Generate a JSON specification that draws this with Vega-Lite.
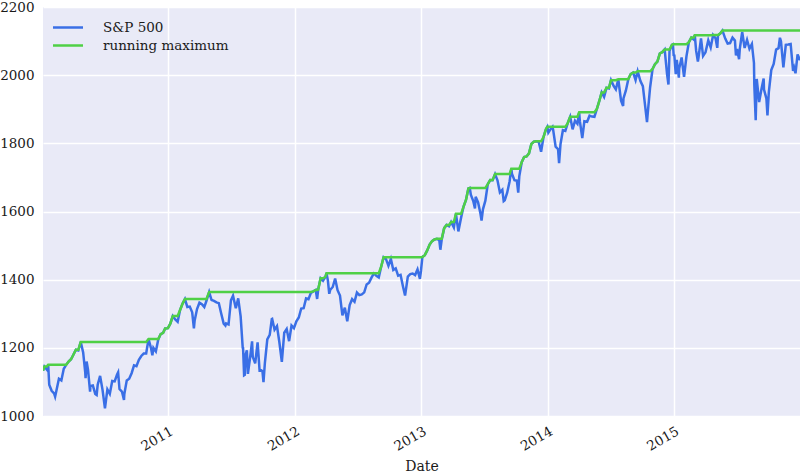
{
"$schema": "https://vega.github.io/schema/vega-lite/v6.json",
"width": 757, "height": 409,
"autosize": {"type": "none"},
"padding": {"left": 43, "top": 7, "right": 0, "bottom": 58},
"background": "white",
"config": {
 "view": {"fill": "#E9EAF7", "stroke": null},
 "font": "DejaVu Serif",
 "axis": {"domain": false, "ticks": false, "gridColor": "white", "gridWidth": 1.5, "labelFont": "DejaVu Serif", "labelFontSize": 13.5, "labelColor": "#1a1a1a", "titleFont": "DejaVu Serif", "titleFontSize": 14, "titleFontWeight": "normal", "titleColor": "#1a1a1a"}
},
"data": {"values": [
{"d":"2010-01-04","v":1132.99},{"d":"2010-01-08","v":1144.98},{"d":"2010-01-15","v":1136.03},{"d":"2010-01-19","v":1150.23},{"d":"2010-01-22","v":1091.76},{"d":"2010-01-29","v":1073.87},{"d":"2010-02-05","v":1066.19},{"d":"2010-02-08","v":1056.74},{"d":"2010-02-12","v":1075.51},{"d":"2010-02-19","v":1109.17},{"d":"2010-02-26","v":1104.49},{"d":"2010-03-05","v":1138.70},{"d":"2010-03-12","v":1149.99},{"d":"2010-03-19","v":1159.90},{"d":"2010-03-26","v":1166.59},{"d":"2010-04-01","v":1178.10},{"d":"2010-04-09","v":1194.37},{"d":"2010-04-16","v":1192.13},{"d":"2010-04-23","v":1217.28},{"d":"2010-04-30","v":1186.69},{"d":"2010-05-06","v":1128.15},{"d":"2010-05-07","v":1110.88},{"d":"2010-05-10","v":1159.73},{"d":"2010-05-14","v":1135.68},{"d":"2010-05-20","v":1071.59},{"d":"2010-05-21","v":1087.69},{"d":"2010-05-28","v":1089.41},{"d":"2010-06-04","v":1064.88},{"d":"2010-06-08","v":1062.00},{"d":"2010-06-11","v":1091.60},{"d":"2010-06-18","v":1117.51},{"d":"2010-06-25","v":1076.76},{"d":"2010-07-02","v":1022.58},{"d":"2010-07-09","v":1077.96},{"d":"2010-07-16","v":1064.88},{"d":"2010-07-23","v":1102.66},{"d":"2010-07-30","v":1101.60},{"d":"2010-08-06","v":1121.64},{"d":"2010-08-09","v":1127.79},{"d":"2010-08-13","v":1079.25},{"d":"2010-08-20","v":1071.69},{"d":"2010-08-26","v":1047.22},{"d":"2010-08-27","v":1064.59},{"d":"2010-09-03","v":1104.51},{"d":"2010-09-10","v":1109.55},{"d":"2010-09-17","v":1125.59},{"d":"2010-09-24","v":1148.67},{"d":"2010-10-01","v":1146.24},{"d":"2010-10-08","v":1165.15},{"d":"2010-10-15","v":1176.19},{"d":"2010-10-22","v":1183.08},{"d":"2010-10-29","v":1183.26},{"d":"2010-11-05","v":1225.85},{"d":"2010-11-12","v":1199.21},{"d":"2010-11-16","v":1178.34},{"d":"2010-11-19","v":1199.73},{"d":"2010-11-26","v":1189.40},{"d":"2010-12-03","v":1224.71},{"d":"2010-12-10","v":1240.40},{"d":"2010-12-17","v":1243.91},{"d":"2010-12-23","v":1256.77},{"d":"2010-12-31","v":1257.64},
{"d":"2011-01-07","v":1271.50},{"d":"2011-01-14","v":1293.24},{"d":"2011-01-21","v":1283.35},{"d":"2011-01-28","v":1276.34},{"d":"2011-02-04","v":1310.87},{"d":"2011-02-11","v":1329.15},{"d":"2011-02-18","v":1343.01},{"d":"2011-02-25","v":1319.88},{"d":"2011-03-04","v":1321.15},{"d":"2011-03-11","v":1304.28},{"d":"2011-03-16","v":1256.88},{"d":"2011-03-18","v":1279.21},{"d":"2011-03-25","v":1313.80},{"d":"2011-04-01","v":1332.41},{"d":"2011-04-08","v":1328.17},{"d":"2011-04-15","v":1319.68},{"d":"2011-04-21","v":1337.38},{"d":"2011-04-29","v":1363.61},{"d":"2011-05-06","v":1340.20},{"d":"2011-05-13","v":1337.77},{"d":"2011-05-20","v":1333.27},{"d":"2011-05-27","v":1331.10},{"d":"2011-06-03","v":1300.16},{"d":"2011-06-10","v":1270.98},{"d":"2011-06-15","v":1265.42},{"d":"2011-06-17","v":1271.50},{"d":"2011-06-24","v":1268.45},{"d":"2011-07-01","v":1339.67},{"d":"2011-07-07","v":1353.22},{"d":"2011-07-15","v":1316.14},{"d":"2011-07-22","v":1345.02},{"d":"2011-07-29","v":1292.28},{"d":"2011-08-04","v":1200.07},{"d":"2011-08-05","v":1199.38},{"d":"2011-08-08","v":1119.46},{"d":"2011-08-10","v":1120.76},{"d":"2011-08-12","v":1178.81},{"d":"2011-08-16","v":1192.76},{"d":"2011-08-19","v":1123.53},{"d":"2011-08-26","v":1176.80},{"d":"2011-08-31","v":1218.89},{"d":"2011-09-02","v":1173.97},{"d":"2011-09-09","v":1154.23},{"d":"2011-09-16","v":1216.01},{"d":"2011-09-22","v":1129.56},{"d":"2011-09-23","v":1136.43},{"d":"2011-09-30","v":1131.42},{"d":"2011-10-03","v":1099.23},{"d":"2011-10-07","v":1155.46},{"d":"2011-10-14","v":1224.58},{"d":"2011-10-21","v":1238.25},{"d":"2011-10-27","v":1284.59},{"d":"2011-10-28","v":1285.09},{"d":"2011-11-04","v":1253.23},{"d":"2011-11-11","v":1263.85},{"d":"2011-11-18","v":1215.65},{"d":"2011-11-25","v":1158.67},{"d":"2011-12-02","v":1244.28},{"d":"2011-12-09","v":1255.19},{"d":"2011-12-16","v":1219.66},{"d":"2011-12-23","v":1265.33},{"d":"2011-12-30","v":1257.60},
{"d":"2012-01-06","v":1277.81},{"d":"2012-01-13","v":1289.09},{"d":"2012-01-20","v":1315.38},{"d":"2012-01-27","v":1316.33},{"d":"2012-02-03","v":1344.90},{"d":"2012-02-10","v":1342.64},{"d":"2012-02-17","v":1361.23},{"d":"2012-02-24","v":1365.74},{"d":"2012-03-02","v":1369.63},{"d":"2012-03-06","v":1343.36},{"d":"2012-03-09","v":1370.87},{"d":"2012-03-16","v":1404.17},{"d":"2012-03-23","v":1397.11},{"d":"2012-03-30","v":1408.47},{"d":"2012-04-02","v":1419.04},{"d":"2012-04-06","v":1398.08},{"d":"2012-04-10","v":1358.59},{"d":"2012-04-13","v":1370.26},{"d":"2012-04-20","v":1378.53},{"d":"2012-04-27","v":1403.36},{"d":"2012-05-04","v":1369.10},{"d":"2012-05-11","v":1353.39},{"d":"2012-05-18","v":1295.22},{"d":"2012-05-25","v":1317.82},{"d":"2012-06-01","v":1278.04},{"d":"2012-06-08","v":1325.66},{"d":"2012-06-15","v":1342.84},{"d":"2012-06-22","v":1335.02},{"d":"2012-06-29","v":1362.16},{"d":"2012-07-06","v":1354.68},{"d":"2012-07-13","v":1356.78},{"d":"2012-07-20","v":1362.66},{"d":"2012-07-27","v":1385.97},{"d":"2012-08-03","v":1390.99},{"d":"2012-08-10","v":1405.87},{"d":"2012-08-17","v":1418.16},{"d":"2012-08-24","v":1411.13},{"d":"2012-08-31","v":1406.58},{"d":"2012-09-07","v":1437.92},{"d":"2012-09-14","v":1465.77},{"d":"2012-09-21","v":1460.15},{"d":"2012-09-28","v":1440.67},{"d":"2012-10-05","v":1460.93},{"d":"2012-10-12","v":1428.59},{"d":"2012-10-19","v":1433.19},{"d":"2012-10-26","v":1411.94},{"d":"2012-11-02","v":1414.20},{"d":"2012-11-09","v":1379.85},{"d":"2012-11-15","v":1353.33},{"d":"2012-11-16","v":1359.88},{"d":"2012-11-23","v":1409.15},{"d":"2012-11-30","v":1416.18},{"d":"2012-12-07","v":1418.07},{"d":"2012-12-14","v":1413.58},{"d":"2012-12-21","v":1430.15},{"d":"2012-12-28","v":1402.43},{"d":"2012-12-31","v":1426.19},
{"d":"2013-01-04","v":1466.47},{"d":"2013-01-11","v":1472.05},{"d":"2013-01-18","v":1485.98},{"d":"2013-01-25","v":1502.96},{"d":"2013-02-01","v":1513.17},{"d":"2013-02-08","v":1517.93},{"d":"2013-02-15","v":1519.79},{"d":"2013-02-22","v":1515.60},{"d":"2013-02-25","v":1487.85},{"d":"2013-03-01","v":1518.20},{"d":"2013-03-08","v":1551.18},{"d":"2013-03-15","v":1560.70},{"d":"2013-03-22","v":1556.89},{"d":"2013-03-28","v":1569.19},{"d":"2013-04-05","v":1553.28},{"d":"2013-04-11","v":1593.37},{"d":"2013-04-18","v":1541.61},{"d":"2013-04-26","v":1582.24},{"d":"2013-05-03","v":1614.42},{"d":"2013-05-10","v":1633.70},{"d":"2013-05-17","v":1667.47},{"d":"2013-05-21","v":1669.16},{"d":"2013-05-24","v":1649.60},{"d":"2013-05-31","v":1630.74},{"d":"2013-06-05","v":1608.90},{"d":"2013-06-07","v":1643.38},{"d":"2013-06-14","v":1626.73},{"d":"2013-06-21","v":1592.43},{"d":"2013-06-24","v":1573.09},{"d":"2013-06-28","v":1606.28},{"d":"2013-07-05","v":1631.89},{"d":"2013-07-12","v":1680.19},{"d":"2013-07-19","v":1692.09},{"d":"2013-07-26","v":1691.65},{"d":"2013-08-02","v":1709.67},{"d":"2013-08-09","v":1691.42},{"d":"2013-08-16","v":1655.83},{"d":"2013-08-23","v":1663.50},{"d":"2013-08-27","v":1630.48},{"d":"2013-08-30","v":1632.97},{"d":"2013-09-06","v":1655.17},{"d":"2013-09-13","v":1687.99},{"d":"2013-09-18","v":1725.52},{"d":"2013-09-20","v":1709.91},{"d":"2013-09-27","v":1691.75},{"d":"2013-10-04","v":1690.50},{"d":"2013-10-08","v":1655.45},{"d":"2013-10-11","v":1703.20},{"d":"2013-10-18","v":1744.50},{"d":"2013-10-25","v":1759.77},{"d":"2013-11-01","v":1761.64},{"d":"2013-11-08","v":1770.61},{"d":"2013-11-15","v":1798.18},{"d":"2013-11-22","v":1804.76},{"d":"2013-11-29","v":1805.81},{"d":"2013-12-06","v":1805.09},{"d":"2013-12-13","v":1775.32},{"d":"2013-12-20","v":1818.32},{"d":"2013-12-27","v":1841.40},{"d":"2013-12-31","v":1848.36},
{"d":"2014-01-03","v":1831.37},{"d":"2014-01-10","v":1842.37},{"d":"2014-01-15","v":1848.38},{"d":"2014-01-17","v":1838.70},{"d":"2014-01-24","v":1790.29},{"d":"2014-01-31","v":1782.59},{"d":"2014-02-03","v":1741.89},{"d":"2014-02-07","v":1797.02},{"d":"2014-02-14","v":1838.63},{"d":"2014-02-21","v":1836.25},{"d":"2014-02-28","v":1859.45},{"d":"2014-03-07","v":1878.04},{"d":"2014-03-14","v":1841.13},{"d":"2014-03-21","v":1866.52},{"d":"2014-03-28","v":1857.62},{"d":"2014-04-02","v":1890.90},{"d":"2014-04-04","v":1865.09},{"d":"2014-04-11","v":1815.69},{"d":"2014-04-17","v":1864.85},{"d":"2014-04-25","v":1863.40},{"d":"2014-05-02","v":1881.14},{"d":"2014-05-09","v":1878.48},{"d":"2014-05-16","v":1877.86},{"d":"2014-05-23","v":1900.53},{"d":"2014-05-30","v":1923.57},{"d":"2014-06-06","v":1949.44},{"d":"2014-06-13","v":1936.16},{"d":"2014-06-20","v":1962.87},{"d":"2014-06-27","v":1960.96},{"d":"2014-07-03","v":1985.44},{"d":"2014-07-11","v":1967.57},{"d":"2014-07-17","v":1958.12},{"d":"2014-07-24","v":1987.98},{"d":"2014-08-01","v":1925.15},{"d":"2014-08-07","v":1909.57},{"d":"2014-08-08","v":1931.59},{"d":"2014-08-15","v":1955.06},{"d":"2014-08-22","v":1988.40},{"d":"2014-08-29","v":2003.37},{"d":"2014-09-05","v":2007.71},{"d":"2014-09-12","v":1985.54},{"d":"2014-09-18","v":2011.36},{"d":"2014-09-26","v":1982.85},{"d":"2014-10-03","v":1967.90},{"d":"2014-10-10","v":1906.13},{"d":"2014-10-15","v":1862.49},{"d":"2014-10-17","v":1886.76},{"d":"2014-10-24","v":1964.58},{"d":"2014-10-31","v":2018.05},{"d":"2014-11-07","v":2031.92},{"d":"2014-11-14","v":2039.82},{"d":"2014-11-21","v":2063.50},{"d":"2014-11-28","v":2067.56},{"d":"2014-12-05","v":2075.37},{"d":"2014-12-12","v":2002.33},{"d":"2014-12-16","v":1972.74},{"d":"2014-12-19","v":2070.65},{"d":"2014-12-26","v":2088.77},{"d":"2014-12-29","v":2090.57},{"d":"2014-12-31","v":2058.90},
{"d":"2015-01-02","v":2058.20},{"d":"2015-01-06","v":2002.61},{"d":"2015-01-09","v":2044.81},{"d":"2015-01-15","v":1992.67},{"d":"2015-01-16","v":2019.42},{"d":"2015-01-23","v":2051.82},{"d":"2015-01-30","v":1994.99},{"d":"2015-02-06","v":2055.47},{"d":"2015-02-13","v":2096.99},{"d":"2015-02-20","v":2110.30},{"d":"2015-02-27","v":2104.50},{"d":"2015-03-02","v":2117.39},{"d":"2015-03-06","v":2071.26},{"d":"2015-03-11","v":2040.24},{"d":"2015-03-13","v":2053.40},{"d":"2015-03-20","v":2108.10},{"d":"2015-03-26","v":2056.15},{"d":"2015-04-02","v":2066.96},{"d":"2015-04-10","v":2102.06},{"d":"2015-04-17","v":2081.18},{"d":"2015-04-24","v":2117.69},{"d":"2015-05-01","v":2108.29},{"d":"2015-05-06","v":2080.15},{"d":"2015-05-08","v":2116.10},{"d":"2015-05-15","v":2122.73},{"d":"2015-05-21","v":2130.82},{"d":"2015-05-29","v":2107.39},{"d":"2015-06-05","v":2092.83},{"d":"2015-06-12","v":2094.11},{"d":"2015-06-19","v":2109.99},{"d":"2015-06-26","v":2101.49},{"d":"2015-06-29","v":2057.64},{"d":"2015-07-02","v":2076.78},{"d":"2015-07-08","v":2046.68},{"d":"2015-07-10","v":2076.62},{"d":"2015-07-17","v":2126.64},{"d":"2015-07-24","v":2079.65},{"d":"2015-07-31","v":2103.84},{"d":"2015-08-07","v":2077.57},{"d":"2015-08-14","v":2091.54},{"d":"2015-08-20","v":2035.73},{"d":"2015-08-21","v":1970.89},{"d":"2015-08-24","v":1893.21},{"d":"2015-08-25","v":1867.61},{"d":"2015-08-28","v":1988.87},{"d":"2015-09-04","v":1921.22},{"d":"2015-09-11","v":1961.05},{"d":"2015-09-17","v":1990.20},{"d":"2015-09-18","v":1958.08},{"d":"2015-09-25","v":1931.34},{"d":"2015-09-28","v":1881.77},{"d":"2015-10-02","v":1951.36},{"d":"2015-10-09","v":2014.89},{"d":"2015-10-16","v":2033.11},{"d":"2015-10-23","v":2075.15},{"d":"2015-10-30","v":2079.36},{"d":"2015-11-03","v":2109.79},{"d":"2015-11-06","v":2099.20},{"d":"2015-11-13","v":2023.04},{"d":"2015-11-20","v":2089.17},{"d":"2015-11-27","v":2090.11},{"d":"2015-12-04","v":2091.69},{"d":"2015-12-11","v":2012.37},{"d":"2015-12-14","v":2021.94},{"d":"2015-12-18","v":2005.55},{"d":"2015-12-24","v":2060.99},{"d":"2015-12-31","v":2043.94}
]},
"transform": [
 {"window": [{"op": "max", "field": "v", "as": "m"}], "sort": [{"field": "d"}], "frame": [null, 0]},
 {"fold": ["v", "m"]}
],
"mark": {"type": "line", "strokeWidth": 2.5, "clip": true},
"encoding": {
 "x": {"field": "d", "type": "temporal",
  "scale": {"type": "utc", "domain": [{"year": 2010, "month": 1, "date": 4, "utc": true}, {"year": 2015, "month": 12, "date": 31, "utc": true}]},
  "axis": {"values": [{"year": 2011, "month": 1, "date": 1, "utc": true}, {"year": 2012, "month": 1, "date": 1, "utc": true}, {"year": 2013, "month": 1, "date": 1, "utc": true}, {"year": 2014, "month": 1, "date": 1, "utc": true}, {"year": 2015, "month": 1, "date": 1, "utc": true}],
   "format": "%Y", "labelAngle": -30, "labelAlign": "right", "labelBaseline": "top", "labelPadding": 8, "title": "Date", "titlePadding": 7}},
 "y": {"field": "value", "type": "quantitative",
  "scale": {"domain": [1000, 2200], "nice": false, "zero": false},
  "axis": {"values": [1000, 1200, 1400, 1600, 1800, 2000, 2200], "format": "d", "title": null, "labelPadding": 9}},
 "color": {"field": "key", "type": "nominal",
  "scale": {"domain": ["v", "m"], "range": ["#3A6FE6", "#4FD046"]},
  "legend": {"title": null, "orient": "none", "legendX": 16, "legendY": 11.5, "padding": 0,
   "symbolType": "M-2,0H2", "symbolSize": 225, "symbolStrokeWidth": 2.5, "symbolFillColor": "transparent", "labelOffset": 26, "rowPadding": 2,
   "labelFont": "DejaVu Serif", "labelFontSize": 13.5, "labelColor": "#1a1a1a",
   "labelExpr": "datum.label == 'v' ? 'S&P 500' : 'running maximum'"}}
}
}
